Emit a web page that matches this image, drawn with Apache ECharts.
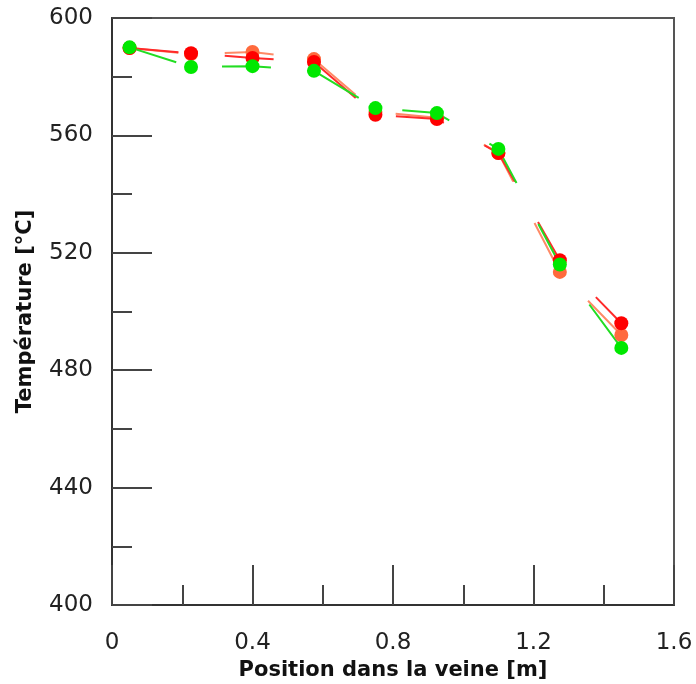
<!DOCTYPE html>
<html><head><meta charset="utf-8">
<script src="https://cdn.jsdelivr.net/npm/echarts@6/dist/echarts.min.js"></script>
<style>html,body{margin:0;padding:0;background:#fff}#c{width:696px;height:684px}</style>
</head><body><div id="c"></div>
<script>
const positions = [0.05, 0.225, 0.4, 0.575, 0.75, 0.925, 1.1, 1.275, 1.45];
const orangeT = [589.8, 587.7, 588.4, 586.0, 568.0, 566.0, 554.0, 513.5, 492.0];
const redT    = [589.8, 588.0, 586.4, 585.0, 567.0, 565.6, 554.0, 517.5, 496.0];
const greenT  = [590.0, 583.3, 583.6, 582.0, 569.3, 567.6, 555.4, 516.0, 487.6];
const xTicks = ['0', '0.4', '0.8', '1.2', '1.6'];

const chart = echarts.init(document.getElementById('c'));
function mk(name, vals, color, lineColor) {
  return {
    name, type: 'line', data: positions.map((x, i) => [x, vals[i]]),
    symbol: 'circle', symbolSize: 14,
    itemStyle: { color },
    lineStyle: { color: lineColor, width: 2, type: [49, 46.5] },
    z: 3
  };
}
chart.setOption({
  animation: false,
  grid: { left: 112, right: 22, top: 18, bottom: 79, show: true, borderColor: '#555', borderWidth: 2,
          containLabel: false, outerBoundsMode: 'none' },
  xAxis: {
    type: 'value', min: 0, max: 1.6, interval: 0.4,
    name: 'Position dans la veine [m]', nameLocation: 'middle', nameGap: 45,
    nameTextStyle: { fontFamily: 'DejaVu Sans', fontSize: 21, fontWeight: 'bold', color: '#111' },
    axisLine: { show: true, lineStyle: { color: '#333', width: 2 } },
    axisTick: { show: true, inside: true, length: 40, lineStyle: { color: '#444', width: 2 } },
    minorTick: { show: true, splitNumber: 2, length: 20, lineStyle: { color: '#444', width: 2 } },
    axisLabel: { fontFamily: 'DejaVu Sans', fontSize: 23, color: '#222', margin: 27,
      formatter: v => xTicks[Math.round(v / 0.4)] },
    splitLine: { show: false }
  },
  yAxis: {
    type: 'value', min: 400, max: 600, interval: 40,
    name: 'Température [°C]', nameLocation: 'middle', nameGap: 76,
    nameTextStyle: { fontFamily: 'DejaVu Sans', fontSize: 21, fontWeight: 'bold', color: '#111' },
    axisLine: { show: true, lineStyle: { color: '#333', width: 2 } },
    axisTick: { show: true, inside: true, length: 40, lineStyle: { color: '#444', width: 2 } },
    minorTick: { show: true, splitNumber: 2, length: 20, lineStyle: { color: '#444', width: 2 } },
    axisLabel: { fontFamily: 'DejaVu Sans', fontSize: 23, color: '#222', margin: 19 },
    splitLine: { show: false }
  },
  series: [
    mk('orange', orangeT, '#ff6a3d', '#ff8a66'),
    mk('red', redT, '#ff0000', '#ff2a2a'),
    mk('green', greenT, '#00e800', '#22dd22')
  ]
});
</script></body></html>
